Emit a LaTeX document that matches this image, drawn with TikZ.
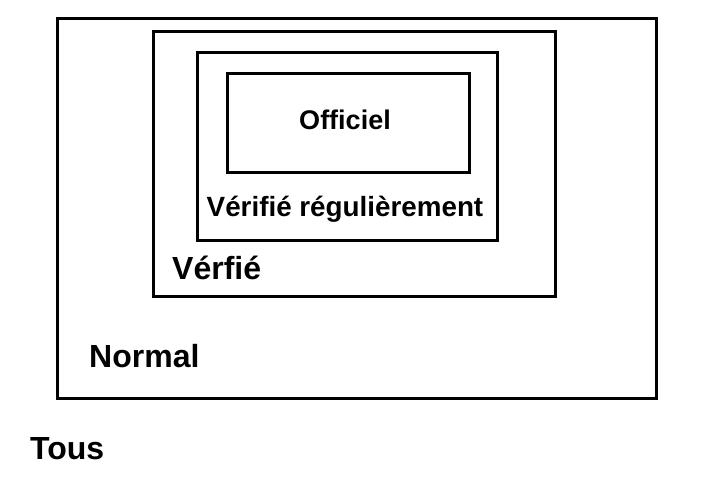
\documentclass[tikz,border=0pt]{standalone}
\usepackage{fontspec}
\setmainfont{Liberation Sans}
\usetikzlibrary{positioning}

\begin{document}
\begin{tikzpicture}[x=1pt,y=-1pt]
	\useasboundingbox (0,0) rectangle (708,490);
	\begin{scope}[every node/.style={draw,line width=3pt,inner sep=0pt}]
		\node[minimum width=599pt,minimum height=380pt] (tous) at (356.5,208) {};
		\node[minimum width=402pt,minimum height=265pt] (verifie) at (354,163.5) {};
		\node[minimum width=300pt,minimum height=188pt] (regul) at (347,146) {};
		\node[minimum width=242pt,minimum height=99pt] (officiel) at (348,122.5) {};
	\end{scope}
	\begin{scope}[every node/.style={inner sep=0pt,font=\bfseries\fontsize{32}{38}\selectfont}]
		\node[anchor=base] (t1) at (345,129) {\fontsize{27}{32}\selectfont Officiel};
		\node[anchor=base] (t2) at (345,216) {\fontsize{27.8}{33}\selectfont Vérifié régulièrement};
		\node[anchor=base west] (t3) at (172,279) {Vérfié};
		\node[anchor=base west] (t4) at (89,367) {Normal};
		\node[anchor=base west] (t5) at (30,459) {Tous};
	\end{scope}
\end{tikzpicture}
\end{document}
